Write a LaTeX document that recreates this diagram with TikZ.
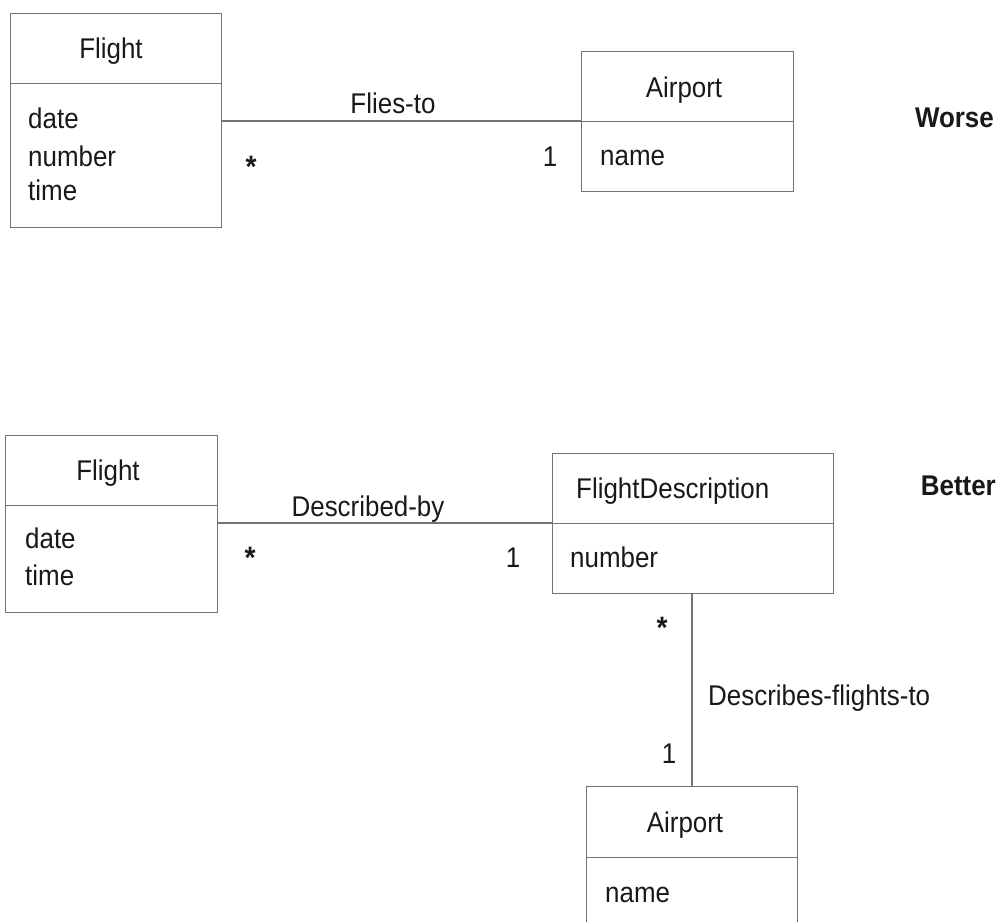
\documentclass[tikz,border=0pt]{standalone}
\usepackage{fontspec}
\setmainfont[FakeStretch=0.91]{Liberation Sans}
\definecolor{lineg}{RGB}{115,115,115}
\begin{document}
\begin{tikzpicture}[x=1pt,y=-1pt,
  every node/.style={font=\fontsize{28.5pt}{34pt}\selectfont, inner sep=0pt, text=black!90},
  compart/.style={draw=lineg, line width=1.3pt, rectangle, anchor=north west, inner sep=0pt},
  assoc/.style={draw=lineg, line width=1.3pt},
  txt/.style={anchor=base west},
  ctr/.style={anchor=base},
  star/.style={anchor=center, font=\bfseries\fontsize{31pt}{34pt}\selectfont},
  tag/.style={anchor=base east, font=\bfseries\fontsize{28.5pt}{34pt}\selectfont}]
\useasboundingbox (0,0) rectangle (998,921);
\clip (0,0) rectangle (998,921);

% ---------- Worse ----------
\node[compart, minimum width=211pt, minimum height=70pt] (f1t) at (10,13) {};
\node[compart, minimum width=211pt, minimum height=144pt] (f1a) at (10,83) {};
\node[ctr] (f1name) at (111,58) {Flight};
\node[txt] (f1date) at (28,128) {date};
\node[txt] (f1num) at (28,166) {number};
\node[txt] (f1time) at (28,200) {time};

\node[compart, minimum width=212pt, minimum height=70pt] (a1t) at (581,51) {};
\node[compart, minimum width=212pt, minimum height=70pt] (a1a) at (581,121) {};
\node[ctr] (a1name) at (684,97) {Airport};
\node[txt] (a1attr) at (600,165) {name};

\coordinate (f1c) at (221,121);
\coordinate (a1c) at (581,121);
\draw[assoc] (f1a.east |- f1c) -- (a1a.west |- a1c);
\node[ctr] (l1) at (393,113) {Flies-to};
\node[star] (m1a) at (251,167) {*};
\node[ctr] (m1b) at (550,166) {1};
\node[tag] (worse) at (994,127) {Worse};

% ---------- Better ----------
\node[compart, minimum width=212pt, minimum height=70pt] (f2t) at (5,435) {};
\node[compart, minimum width=212pt, minimum height=107pt] (f2a) at (5,505) {};
\node[ctr] (f2name) at (108,480) {Flight};
\node[txt] (f2date) at (25,548) {date};
\node[txt] (f2time) at (25,585) {time};

\node[compart, minimum width=281pt, minimum height=70pt] (fdt) at (552,453) {};
\node[compart, minimum width=281pt, minimum height=70pt] (fda) at (552,523) {};
\node[txt] (fdname) at (576,498) {FlightDescription};
\node[txt] (fdattr) at (570,567) {number};

\coordinate (f2c) at (217,523);
\draw[assoc] (f2a.east |- f2c) -- (fda.west |- f2c);
\node[ctr] (l2) at (368,516) {Described-by};
\node[star] (m2a) at (250,558) {*};
\node[ctr] (m2b) at (513,567) {1};
\node[tag] (better) at (996,495) {Better};

\node[compart, minimum width=211pt, minimum height=71pt] (a2t) at (586,786) {};
\node[compart, minimum width=211pt, minimum height=90pt] (a2a) at (586,857) {};
\node[ctr] (a2name) at (685,832) {Airport};
\node[txt] (a2attr) at (605,902) {name};

\coordinate (vx) at (692,0);
\draw[assoc] (vx |- fda.south) -- (vx |- a2t.north);
\node[txt] (l3) at (708,705) {Describes-flights-to};
\node[star] (m3a) at (662,628) {*};
\node[ctr] (m3b) at (669,763) {1};
\end{tikzpicture}
\end{document}
